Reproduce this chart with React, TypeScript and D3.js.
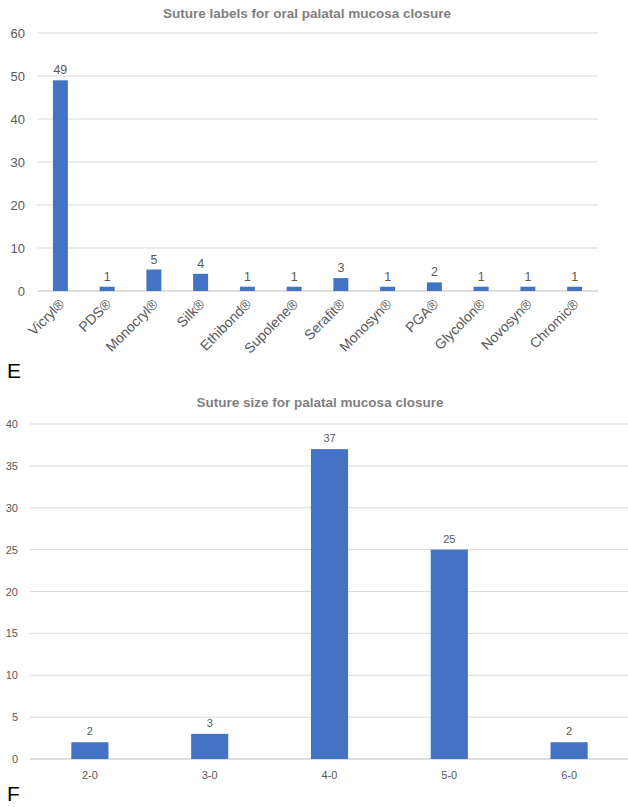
import React from "react";
import * as d3 from "d3";

const labelsE = ["Vicryl®", "PDS®", "Monocryl®", "Silk®", "Ethibond®", "Supolene®", "Serafit®", "Monosyn®", "PGA®", "Glycolon®", "Novosyn®", "Chromic®"];
const valuesE = [49, 1, 5, 4, 1, 1, 3, 1, 2, 1, 1, 1];
const ticksE = [0, 10, 20, 30, 40, 50, 60];

const labelsF = ["2-0", "3-0", "4-0", "5-0", "6-0"];
const valuesF = [2, 3, 37, 25, 2];
const ticksF = [0, 5, 10, 15, 20, 25, 30, 35, 40];

const BAR = "#4472C4";
const GRID = "#d9d9d9";
const TXT = "#595959";
const FONT = "'Liberation Sans', Arial, sans-serif";

export default function App() {
  // Chart E
  const xE = d3.scaleBand<string>().domain(labelsE).range([37, 598]).paddingInner(0.68).paddingOuter(0.34);
  const yE = d3.scaleLinear().domain([0, 60]).range([291, 33]);
  // Chart F
  const xF = d3.scaleBand<string>().domain(labelsF).range([30, 629]).paddingInner(0.69).paddingOuter(0.345);
  const yF = d3.scaleLinear().domain([0, 40]).range([759, 424]);

  return (
    <svg width={628} height={807} style={{ position: "absolute", left: 0, top: 0, background: "#fff" }} fontFamily={FONT}>
      <rect width={628} height={807} fill="#fff" />
      {/* Chart E */}
      <text x={307} y={18} textAnchor="middle" fontSize={13.5} fontWeight="bold" fill="#7f7f7f">Suture labels for oral palatal mucosa closure</text>
      {ticksE.map((t) => (
        <g key={"ge" + t}>
          <line x1={37} x2={598} y1={yE(t)} y2={yE(t)} stroke={t === 0 ? "#bfbfbf" : GRID} strokeWidth={1} />
          <text x={25} y={yE(t) + 4.5} textAnchor="end" fontSize={13} fill={TXT}>{t}</text>
        </g>
      ))}
      {labelsE.map((l, i) => {
        const x = xE(l)!;
        const w = xE.bandwidth();
        const cx = x + w / 2;
        return (
          <g key={"be" + l}>
            <rect x={x} y={yE(valuesE[i])} width={w} height={yE(0) - yE(valuesE[i])} fill={BAR} />
            <text x={cx} y={yE(valuesE[i]) - 6} textAnchor="middle" fontSize={12.5} fill={TXT}>{valuesE[i]}</text>
            <text transform={`translate(${cx + 5},${305}) rotate(-45)`} textAnchor="end" fontSize={14} fill={TXT}>{l}</text>
          </g>
        );
      })}
      <text x={7} y={378} fontSize={21} fill="#000">E</text>

      {/* Chart F */}
      <text x={320} y={407} textAnchor="middle" fontSize={13.5} fontWeight="bold" fill="#7f7f7f">Suture size for palatal mucosa closure</text>
      {ticksF.map((t) => (
        <g key={"gf" + t}>
          <line x1={30} x2={628} y1={yF(t)} y2={yF(t)} stroke={t === 0 ? "#bfbfbf" : GRID} strokeWidth={1} />
          <text x={18} y={yF(t) + 4} textAnchor="end" fontSize={11} fill={TXT}>{t}</text>
        </g>
      ))}
      {labelsF.map((l, i) => {
        const x = xF(l)!;
        const w = xF.bandwidth();
        const cx = x + w / 2;
        return (
          <g key={"bf" + l}>
            <rect x={x} y={yF(valuesF[i])} width={w} height={yF(0) - yF(valuesF[i])} fill={BAR} />
            <text x={cx} y={yF(valuesF[i]) - 7} textAnchor="middle" fontSize={11} fill={TXT}>{valuesF[i]}</text>
            <text x={cx} y={779} textAnchor="middle" fontSize={11} fill={TXT}>{l}</text>
          </g>
        );
      })}
      <text x={7} y={801} fontSize={21} fill="#000">F</text>
    </svg>
  );
}
